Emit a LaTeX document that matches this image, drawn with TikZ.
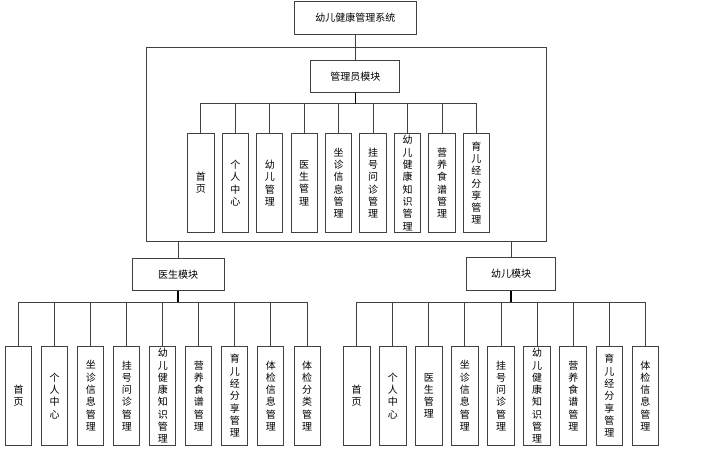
\documentclass[tikz,border=0pt]{standalone}
\usepackage{fontspec}
\newfontfamily\cjk{Noto Sans CJK SC}
\usetikzlibrary{calc}
\definecolor{edge}{HTML}{404040}
\tikzset{
  box/.style={draw=edge, line width=1pt, fill=white, inner sep=0pt, align=center,
    font={\cjk\fontsize{10}{12.3}\selectfont}},
  leaf/.style={box, minimum height=98.5pt},
  conn/.style={draw=edge, line width=1pt},
  trunk/.style={draw=black, line width=1.6pt}
}
\begin{document}
\begin{tikzpicture}[x=1pt,y=-1pt]
\useasboundingbox (0,0) rectangle (702,448);
% top
\node[box, minimum width=122pt, minimum height=33pt] (sys) at (355.3,17.7) {幼儿健康管理系统};
\node[draw=edge, line width=1pt, minimum width=399.3pt, minimum height=194pt, inner sep=0pt] (frame) at (346.35,144) {};
\node[box, minimum width=89pt, minimum height=32pt] (adm) at (355.3,76.5) {管理员模块};
\draw[conn] (sys.south) -- (adm.north);
% admin children
\foreach \t [count=\i] in {首\\页,个\\人\\中\\心,幼\\儿\\管\\理,医\\生\\管\\理,坐\\诊\\信\\息\\管\\理,挂\\号\\问\\诊\\管\\理,幼\\儿\\健\\康\\知\\识\\管\\理,营\\养\\食\\谱\\管\\理,育\\儿\\经\\分\\享\\管\\理}{
  \node[leaf, minimum width=26.3pt] (a\i) at ({187.7+13.15+(\i-1)*34.45},183) {\t};
  \draw[conn] (a\i.north) |- (adm.south |- 0,103.7);
}
\draw[trunk] (adm.south) -- (adm.south |- 0,103.7);
% doctor module
\node[box, minimum width=92pt, minimum height=32.5pt] (doc) at (178,274.5) {医生模块};
\draw[conn] (doc.north) -- (doc.north |- frame.south);
\foreach \t [count=\i] in {首\\页,个\\人\\中\\心,坐\\诊\\信\\息\\管\\理,挂\\号\\问\\诊\\管\\理,幼\\儿\\健\\康\\知\\识\\管\\理,营\\养\\食\\谱\\管\\理,育\\儿\\经\\分\\享\\管\\理,体\\检\\信\\息\\管\\理,体\\检\\分\\类\\管\\理}{
  \node[leaf, minimum width=26pt] (d\i) at ({5.7+13+(\i-1)*36.04},395.8) {\t};
  \draw[conn] (d\i.north) |- (doc.south |- 0,302.3);
}
\draw[trunk] (doc.south) -- (doc.south |- 0,302.3);
% child module
\node[box, minimum width=89pt, minimum height=33pt] (kid) at (511.2,274.2) {幼儿模块};
\draw[conn] (kid.north) -- (kid.north |- frame.south);
\foreach \t [count=\i] in {首\\页,个\\人\\中\\心,医\\生\\管\\理,坐\\诊\\信\\息\\管\\理,挂\\号\\问\\诊\\管\\理,幼\\儿\\健\\康\\知\\识\\管\\理,营\\养\\食\\谱\\管\\理,育\\儿\\经\\分\\享\\管\\理,体\\检\\信\\息\\管\\理}{
  \node[leaf, minimum width=26.7pt] (k\i) at ({343.3+13.35+(\i-1)*36.1},395.8) {\t};
  \draw[conn] (k\i.north) |- (kid.south |- 0,302.3);
}
\draw[trunk] (kid.south) -- (kid.south |- 0,302.3);
\end{tikzpicture}
\end{document}
